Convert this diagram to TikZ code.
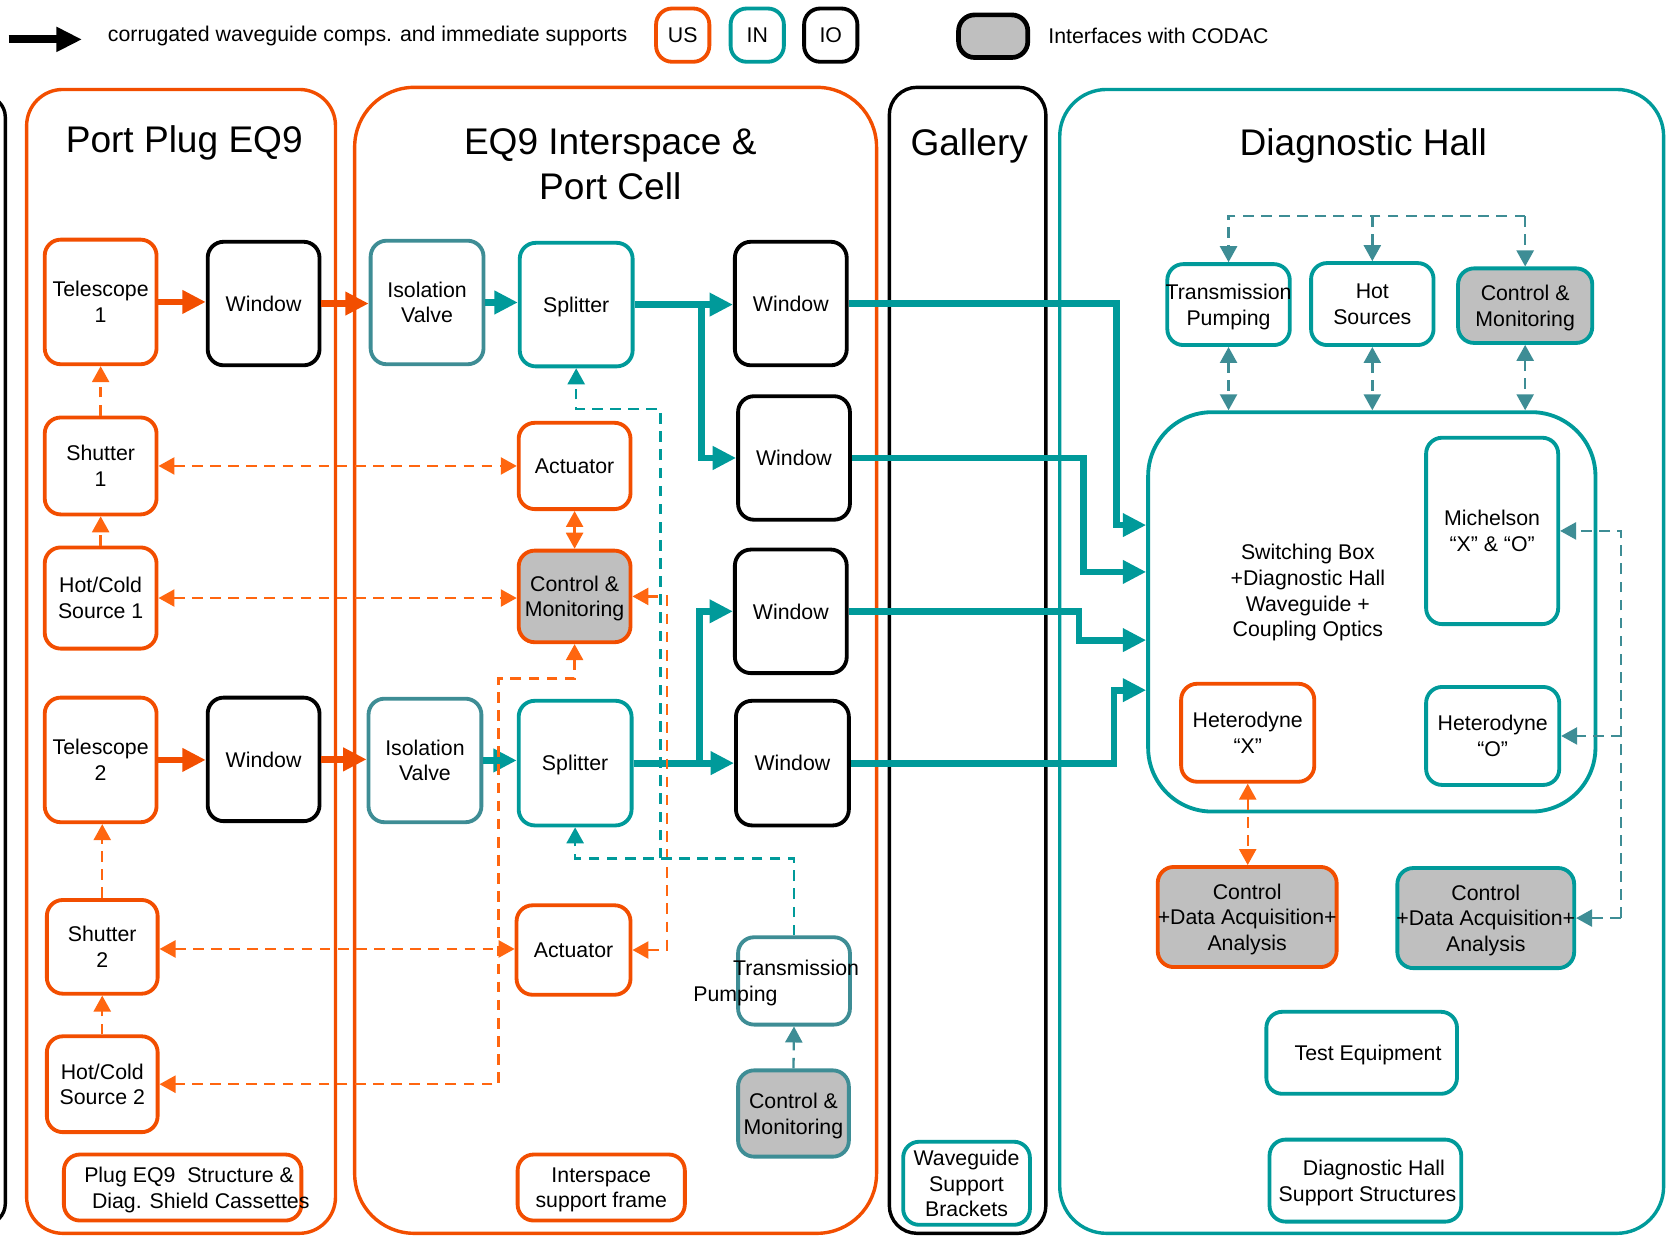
\documentclass[tikz,border=0pt]{standalone}
\usepackage{fontspec}
\setmainfont{Liberation Sans}
\usetikzlibrary{arrows.meta}
\definecolor{orW}{RGB}{242,78,0}
\definecolor{orD}{RGB}{255,102,16}
\definecolor{tlW}{RGB}{0,154,154}
\definecolor{tlG}{RGB}{62,141,149}
\definecolor{grF}{RGB}{191,191,191}
\newcommand\myzb[2]{\makebox[0pt]{\hspace*{#1}#2}}
\newcommand\myNF{\fontsize{10}{12}\selectfont}
\newcommand\myTF{\fontsize{17.4}{21.5}\selectfont}
\begin{document}
\begin{tikzpicture}[x=0.5pt,y=-0.5pt,
 >={Triangle[length=7.5pt,width=8pt]},
 nbox/.style={draw, line width=1.8pt, rounded corners=7.5pt, fill=white, align=center, inner sep=0pt, text depth=0pt, font=\myNF, text=black},
 us/.style={nbox, draw=orW},
 inb/.style={nbox, draw=tlW},
 ing/.style={nbox, draw=tlG},
 io/.style={nbox, draw=black},
 cod/.style={fill=grF},
 sz/.style 2 args={minimum width=#1*0.5pt, minimum height=#2*0.5pt},
 panel/.style={draw, line width=1.6pt, inner sep=0pt},
 ttl/.style={font=\myTF, align=center, text depth=0pt},
 wg/.style={line width=3.2pt, -{Triangle[length=11pt,width=10.5pt]}},
 ctl/.style={line width=1.1pt, dash pattern=on 5pt off 3.5pt}
]
\useasboundingbox (0,0) rectangle (1568,1160);

% panels
\node[panel, draw=black, rounded corners=10pt, sz={205}{1060}] (pio) at (-97.5,620) {};
\node[panel, draw=orW, rounded corners=17pt, sz={290}{1074}] (ppp) at (170,621) {};
\node[panel, draw=orW, rounded corners=28pt, sz={490}{1076}] (pis) at (578,620) {};
\node[panel, draw=black, rounded corners=13pt, sz={147}{1076}] (pgal) at (908.5,620) {};
\node[panel, draw=tlW, rounded corners=22pt, sz={567}{1074}] (pdh) at (1278.5,621) {};

% titles
\node[ttl] (tpp) at (173,131) {Port Plug EQ9};
\node[ttl] (tis) at (573,154) {EQ9 Interspace \&\\Port Cell};
\node[ttl] (tgal) at (910,133) {Gallery};
\node[ttl] (tdh) at (1280,133) {Diagnostic Hall};

% legend
\coordinate (la) at (8,37);
\coordinate (lb) at (77,37);
\draw[line width=3.8pt, -{Triangle[length=12pt,width=11pt]}] (la) -- (lb);
\node[anchor=west, inner sep=0pt, font=\myNF] (lt) at (101,34) {corrugated waveguide comps. and immediate supports};
\node[us, sz={50}{50}] (lus) at (641,33) {US};
\node[inb, sz={50}{50}] (lin) at (711,33) {IN};
\node[io, sz={50}{50}] (lio) at (780,33) {IO};
\node[io, cod, line width=2.2pt, sz={65}{40}] (lcod) at (932.5,34) {};
\node[anchor=west, inner sep=0pt, font=\myNF] (lct) at (984,34) {Interfaces with CODAC};

% port plug
\node[us, sz={105}{117}] (tel1) at (94.5,283.5) {Telescope\\1};
\node[io, sz={105}{116}] (win1) at (247.5,285) {Window};
\node[us, sz={105}{91}] (sh1) at (94.5,437.5) {Shutter\\1};
\node[us, sz={105}{95}] (hc1) at (94.5,561.5) {Hot/Cold\\Source 1};
\node[us, sz={105}{117}] (tel2) at (94.5,713.5) {Telescope\\2};
\node[io, sz={105}{116}] (win2) at (247.5,713) {Window};
\node[us, sz={104}{88}] (sh2) at (96,889) {Shutter\\2};
\node[us, sz={104}{90}] (hc2) at (96,1018) {Hot/Cold\\Source 2};
\node[us, sz={223}{62}] (plug) at (171.5,1115) {\myzb{6pt}{Plug EQ9\ \ Structure \&}\\\myzb{17pt}{Diag. Shield Cassettes}};

% interspace
\node[ing, sz={106}{116}] (iv1) at (401,284) {Isolation\\Valve};
\node[inb, sz={106}{116}] (sp1) at (541,286) {Splitter};
\node[io, sz={105}{116}] (wa) at (742.5,285) {Window};
\node[io, sz={105}{116}] (wb) at (745.5,430) {Window};
\node[us, sz={105}{81}] (act1) at (539.5,437.5) {Actuator};
\node[us, cod, sz={105}{86}] (cm1) at (539.5,560) {Control \&\\Monitoring};
\node[io, sz={105}{116}] (wc) at (742.5,574) {Window};
\node[ing, sz={106}{116}] (iv2) at (399,714) {Isolation\\Valve};
\node[inb, sz={106}{117}] (sp2) at (540,716.5) {Splitter};
\node[io, sz={106}{117}] (wd) at (744,716.5) {Window};
\node[us, sz={107}{84}] (act2) at (538.5,892) {Actuator};
\node[ing, sz={105}{82}] (tp1) at (745.5,921) {\myzb{2pt}{Transmission}\\\myzb{-55pt}{Pumping}};
\node[ing, cod, sz={104}{81}] (cm2) at (745,1045.5) {Control \&\\Monitoring};
\node[us, sz={157}{62}] (isf) at (564.5,1115) {Interspace\\support frame};

% gallery
\node[inb, sz={119}{78}] (wsb) at (907.5,1111) {Waveguide\\Support\\Brackets};

% diagnostic hall
\node[inb, sz={115}{76}] (tp2) at (1153.5,286) {\myzb{0pt}{Transmission}\\Pumping};
\node[inb, sz={115}{77}] (hs) at (1288.5,285.5) {Hot\\Sources};
\node[inb, cod, sz={126}{70}] (cm3) at (1432,287) {Control \&\\Monitoring};
\node[inb, rounded corners=30pt, sz={420}{375},
  label={[font=\myNF, align=center, text depth=0pt, xshift=-30pt, yshift=10pt]center:{Switching Box\\+Diagnostic Hall\\Waveguide +\\Coupling Optics}}] (sb) at (1288,574.5) {};
\node[inb, sz={124}{175}] (mich) at (1401,498.5) {Michelson\\“X” \& “O”};
\node[us, sz={125}{92}] (hx) at (1171.5,688) {Heterodyne\\“X”};
\node[inb, sz={125}{92}] (ho) at (1401.5,691) {Heterodyne\\“O”};
\node[us, cod, sz={168}{94}] (daq1) at (1171,861) {Control\\\myzb{0pt}{+Data Acquisition+}\\Analysis};
\node[inb, cod, sz={166}{94}] (daq2) at (1395,862) {Control\\\myzb{0pt}{+Data Acquisition+}\\Analysis};
\node[inb, sz={179}{77}] (te) at (1278.5,988.5) {\myzb{6pt}{Test Equipment}};
\node[inb, sz={180}{77}] (dhs) at (1282,1108.5) {\myzb{8pt}{Diagnostic Hall}\\\myzb{2pt}{Support Structures}};

% waveguide (orange)
\draw[wg, orW] (tel1.east) -- (tel1.east -| win1.west);
\draw[wg, orW] (win1.east) -- (win1.east -| iv1.west);
\draw[wg, orW] (tel2.east) -- (tel2.east -| win2.west);
\draw[wg, orW] (win2.east) -- (win2.east -| iv2.west);
% waveguide (teal)
\draw[wg, tlW] (iv1.east) -- (iv1.east -| sp1.west);
\draw[wg, tlW] (sp1.east) -- (sp1.east -| wa.west);
\coordinate (br1) at (659,286);
\draw[wg, tlW] (br1) |- (wb.west);
\draw[wg, tlW] (iv2.east) -- (iv2.east -| sp2.west);
\draw[wg, tlW] (sp2.east) -- (sp2.east -| wd.west);
\coordinate (br2) at (657,716.5);
\draw[wg, tlW] (br2) |- (wc.west);
\draw[wg, tlW] (wa.east) -| (1048,493) -- (sb.west |- 0,493);
\draw[wg, tlW] (wb.east) -| (1017,537) -- (sb.west |- 0,537);
\draw[wg, tlW] (wc.east) -| (1013,601) -- (sb.west |- 0,601);
\draw[wg, tlW] (wd.east) -| (1046,648) -- (sb.west |- 0,648);

% control (orange dashed)
\draw[ctl, orD, ->] (sh1.north) -- (tel1.south);
\draw[ctl, orD, ->] (hc1.north) -- (sh1.south);
\draw[ctl, orD, ->] (sh2.north) -- (sh2.north |- tel2.south);
\draw[ctl, orD, ->] (hc2.north) -- (sh2.south);
\draw[ctl, orD, <->] (sh1.east) -- (sh1.east -| act1.west);
\draw[ctl, orD, <->] (hc1.east) -- (hc1.east -| cm1.west);
\draw[ctl, orD, <->] (act1.south) -- (cm1.north);
\draw[ctl, orD, <->] (sh2.east |- 0,891) -- (act2.west |- 0,891);
\draw[ctl, orD, <->] (cm1.south) |- (468,637) |- (hc2.east);
\draw[ctl, orD, <->] (cm1.east) -| (626,892) -- (act2.east);
\draw[ctl, orD, <->] (hx.south) -- (hx.south |- daq1.north);

% control (teal dashed)
\draw[ctl, tlW, ->] (tp1.north) |- (sp2.south |- 0,806) -- (sp2.south);
\coordinate (j1) at (620,806);
\draw[ctl, tlW, ->] (j1) |- (sp1.south |- 0,384) -- (sp1.south);
\draw[ctl, tlG, ->] (cm2.north) -- (tp1.south);
\draw[ctl, tlG, ->] (cm3.north |- 0,203) -| (tp2.north);
\draw[ctl, tlG, ->] (cm3.north |- 0,203) -- (cm3.north);
\draw[ctl, tlG, ->] (hs.north |- 0,203) -- (hs.north);
\draw[ctl, tlG, <->] (tp2.south) -- (tp2.south |- sb.north);
\draw[ctl, tlG, <->] (hs.south) -- (hs.south |- sb.north);
\draw[ctl, tlG, <->] (cm3.south) -- (cm3.south |- sb.north);
\coordinate (rb) at (1522,862);
\draw[ctl, tlG, ->] (rb) |- (mich.east);
\draw[ctl, tlG, ->] (rb) |- (ho.east);
\draw[ctl, tlG, ->] (rb) -- (daq2.east);
\end{tikzpicture}
\end{document}
